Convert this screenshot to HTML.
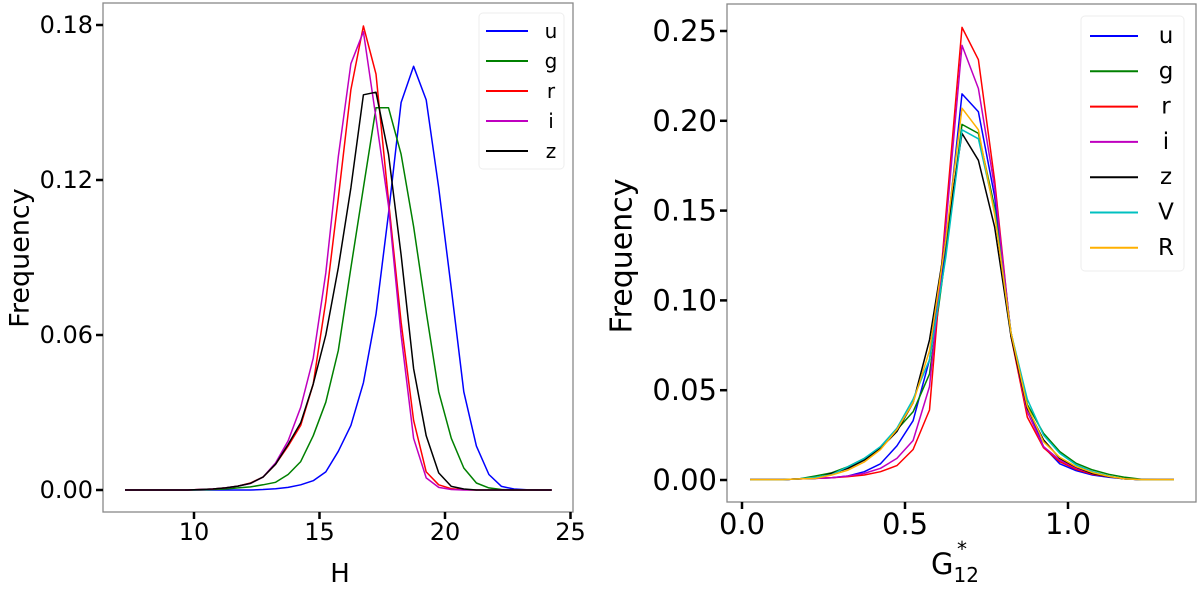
<!DOCTYPE html>
<html><head><meta charset="utf-8">
<style>
body{margin:0;background:#fff;}
svg{display:block;font-family:"DejaVu Sans","Liberation Sans",sans-serif;}
</style></head>
<body>
<svg id="fig" width="1200" height="589" viewBox="0 0 1200 589">
<g id="left"></g>
<g id="right"></g>
</svg>
<script>
// ---- left chart data (H) ----
const hStart = 7.25, hStep = 0.5;
const hTicksY = [0, 0.06, 0.12, 0.18];
const hTickYLabels = ["0.00","0.06","0.12","0.18"];
const hTicksX = [10, 15, 20, 25];
const hU = [0,0,0,0,0,0,0,0,0,0,0,0.0002,0.0005,0.001,0.002,0.0036,0.007,0.015,0.025,0.0415,0.068,0.107,0.150,0.164,0.151,0.117,0.078,0.038,0.017,0.006,0.0014,0.0004,0.0001,0,0];
const hG = [0,0,0,0,0,0,0,0.0002,0.0004,0.0008,0.0012,0.002,0.003,0.006,0.011,0.021,0.034,0.054,0.086,0.117,0.148,0.148,0.130,0.102,0.069,0.038,0.020,0.0085,0.0027,0.0008,0.0002,0,0,0,0];
const hR = [0,0,0,0,0,0,0.0002,0.0004,0.0008,0.0015,0.0027,0.005,0.010,0.017,0.025,0.041,0.073,0.113,0.155,0.1796,0.161,0.112,0.065,0.027,0.007,0.002,0.0005,0.0001,0,0,0,0,0,0,0];
const hI = [0,0,0,0,0,0,0.0002,0.0004,0.0008,0.0015,0.0025,0.005,0.0105,0.019,0.032,0.051,0.084,0.129,0.165,0.1774,0.144,0.110,0.060,0.020,0.0047,0.001,0.0002,0,0,0,0,0,0,0,0];
const hZ = [0,0,0,0,0,0,0.0002,0.0004,0.0008,0.0015,0.0026,0.005,0.010,0.0176,0.026,0.041,0.060,0.086,0.117,0.153,0.154,0.130,0.091,0.047,0.021,0.0066,0.0014,0.0004,0,0,0,0,0,0,0];

// ---- right chart data (G12*) ----
const gStart = 0.025, gStep = 0.05;
const gTicksY = [0, 0.05, 0.10, 0.15, 0.20, 0.25];
const gTickYLabels = ["0.00","0.05","0.10","0.15","0.20","0.25"];
const gTicksX = [0, 0.5, 1.0];
const gTickXLabels = ["0.0","0.5","1.0"];
const gU = [0.0002,0.0002,0.0002,0.0006,0.0009,0.0013,0.0022,0.0046,0.009,0.019,0.033,0.067,0.130,0.215,0.205,0.158,0.082,0.041,0.0186,0.009,0.0052,0.0028,0.0015,0.0006,0.0002,0.0002,0.0002];
const gG = [0.0002,0.0002,0.0002,0.0006,0.0022,0.004,0.0074,0.012,0.018,0.028,0.038,0.059,0.126,0.198,0.193,0.152,0.082,0.042,0.026,0.0158,0.0093,0.0056,0.0032,0.0015,0.0004,0.0002,0.0002];
const gR = [0.0002,0.0002,0.0002,0.0006,0.0009,0.0013,0.0019,0.0028,0.0046,0.008,0.017,0.039,0.147,0.252,0.234,0.167,0.080,0.035,0.018,0.0102,0.0059,0.0032,0.0019,0.0006,0.0002,0.0002,0.0002];
const gI = [0.0002,0.0002,0.0002,0.0006,0.0009,0.0013,0.0022,0.0037,0.0065,0.012,0.022,0.052,0.141,0.242,0.218,0.163,0.081,0.038,0.0186,0.0111,0.0065,0.0037,0.0019,0.0006,0.0002,0.0002,0.0002];
const gZ = [0.0002,0.0002,0.0002,0.0006,0.0009,0.0037,0.0065,0.0111,0.0176,0.027,0.043,0.078,0.134,0.193,0.178,0.141,0.080,0.040,0.0223,0.012,0.0071,0.0037,0.0019,0.0006,0.0002,0.0002,0.0002];
const gV = [0.0002,0.0002,0.0002,0.0006,0.0015,0.003,0.0074,0.012,0.0186,0.0288,0.045,0.067,0.124,0.195,0.190,0.150,0.082,0.045,0.025,0.0148,0.0084,0.0046,0.0022,0.0006,0.0002,0.0002,0.0002];
const gRR = [0.0002,0.0002,0.0002,0.0006,0.0009,0.0028,0.0055,0.010,0.017,0.028,0.043,0.072,0.134,0.207,0.195,0.148,0.082,0.041,0.0213,0.0126,0.0074,0.0041,0.002,0.0006,0.0002,0.0002,0.0002];

const NS = "http://www.w3.org/2000/svg";
function mk(parent, tag, attrs){
  const e = document.createElementNS(NS, tag);
  for (const k in attrs) e.setAttribute(k, attrs[k]);
  parent.appendChild(e);
  return e;
}

function drawChart(g, cfg){
  const {box, xs, ys, xTicks, xLabels, yTicks, yLabels, series, fs, xlabel, legend} = cfg;
  const frame = mk(g, 'rect', {x:box.l, y:box.t, width:box.r-box.l, height:box.b-box.t, fill:'none', stroke:'#888', 'stroke-width':1.3});
  
  
  yTicks.forEach((v,i)=>{
    const y = ys(v);
    const t = mk(g, 'line', {x1:box.l-7, x2:box.l, y1:y, y2:y, stroke:'#000', 'stroke-width':2.5});
    
    
    const lb = mk(g, 'text', {x:box.l-10, y:y, 'text-anchor':'end', 'dominant-baseline':'central', 'font-size':fs});
    lb.textContent = yLabels[i];
    
    
  });
  xTicks.forEach((v,i)=>{
    const x = xs(v);
    const t = mk(g, 'line', {x1:x, x2:x, y1:box.b, y2:box.b+7, stroke:'#000', 'stroke-width':2.5});
    
    
    const lb = mk(g, 'text', {x:x, y:box.b+10+fs*0.75, 'text-anchor':'middle', 'font-size':fs});
    lb.textContent = xLabels[i];
    
    
  });
  series.forEach(s=>{
    const pts = s.vals.map((v,i)=> xs(cfg.start + cfg.step*i).toFixed(1)+','+ys(v).toFixed(1)).join(' ');
    const pl = mk(g, 'polyline', {points:pts, fill:'none', stroke:s.color, 'stroke-width':1.5, 'stroke-linejoin':'round'});
    
    
  });
  const lg = mk(g, 'g', {});
  
  
  const lr = mk(lg, 'rect', {x:legend.x, y:legend.y, width:legend.w, height:legend.h, rx:4, fill:'#fff', stroke:'#eee', 'stroke-width':1});
  
  
  series.forEach((s,i)=>{
    const y = legend.y0 + legend.dy*i;
    const ll = mk(lg, 'line', {x1:legend.lx1, x2:legend.lx2, y1:y, y2:y, stroke:s.color, 'stroke-width':2});
    
    
    const lt = mk(lg, 'text', {x:legend.tx, y:y, 'text-anchor':'middle', 'dominant-baseline':'central', 'font-size':legend.fs});
    lt.textContent = s.name;
    
    
  });
}

// left
const L = document.getElementById('left');
const lBox = {l:103, r:573, t:3, b:512};
drawChart(L, {
  box:lBox, start:hStart, step:hStep,
  xs: v => 194 + (v-10)*25.1,
  ys: v => 490 - v*(155/0.06),
  xTicks:hTicksX, xLabels:hTicksX.map(String),
  yTicks:hTicksY, yLabels:hTickYLabels, fs:24,
  series:[{name:'u',color:'#0000ff',vals:hU},{name:'g',color:'#008000',vals:hG},{name:'r',color:'#ff0000',vals:hR},{name:'i',color:'#bf00bf',vals:hI},{name:'z',color:'#000000',vals:hZ}],
  legend:{x:479,y:13,w:85,h:156,y0:31,dy:30,lx1:486,lx2:528,tx:551,fs:20}
});
const lyl = mk(L, 'text', {x:0, y:0, transform:'translate(20,258) rotate(-90)', 'text-anchor':'middle', 'dominant-baseline':'central', 'font-size':27});
lyl.textContent = 'Frequency';


const lxl = mk(L, 'text', {x:340, y:582, 'text-anchor':'middle', 'font-size':26});
lxl.textContent = 'H';



// right
const R = document.getElementById('right');
const rBox = {l:727, r:1196, t:4, b:502};
drawChart(R, {
  box:rBox, start:gStart, step:gStep,
  xs: v => 742 + v*326,
  ys: v => 480 - v*(89.8/0.05),
  xTicks:gTicksX, xLabels:gTickXLabels,
  yTicks:gTicksY, yLabels:gTickYLabels, fs:29,
  series:[{name:'u',color:'#0000ff',vals:gU},{name:'g',color:'#008000',vals:gG},{name:'r',color:'#ff0000',vals:gR},{name:'i',color:'#bf00bf',vals:gI},{name:'z',color:'#000000',vals:gZ},{name:'V',color:'#00c0c0',vals:gV},{name:'R',color:'#ffb000',vals:gRR}],
  legend:{x:1081,y:16,w:103,h:255,y0:36,dy:35.3,lx1:1090,lx2:1138,tx:1166,fs:23}
});
const ryl = mk(R, 'text', {x:0, y:0, transform:'translate(622,256) rotate(-90)', 'text-anchor':'middle', 'dominant-baseline':'central', 'font-size':30});
ryl.textContent = 'Frequency';


const rxl = mk(R, 'text', {x:955, y:574, 'text-anchor':'middle', 'font-size':29});


rxl.innerHTML = 'G<tspan font-size="20" dy="8">12</tspan><tspan font-size="20" dx="-22" dy="-26">*</tspan>';
</script>
</body></html>
